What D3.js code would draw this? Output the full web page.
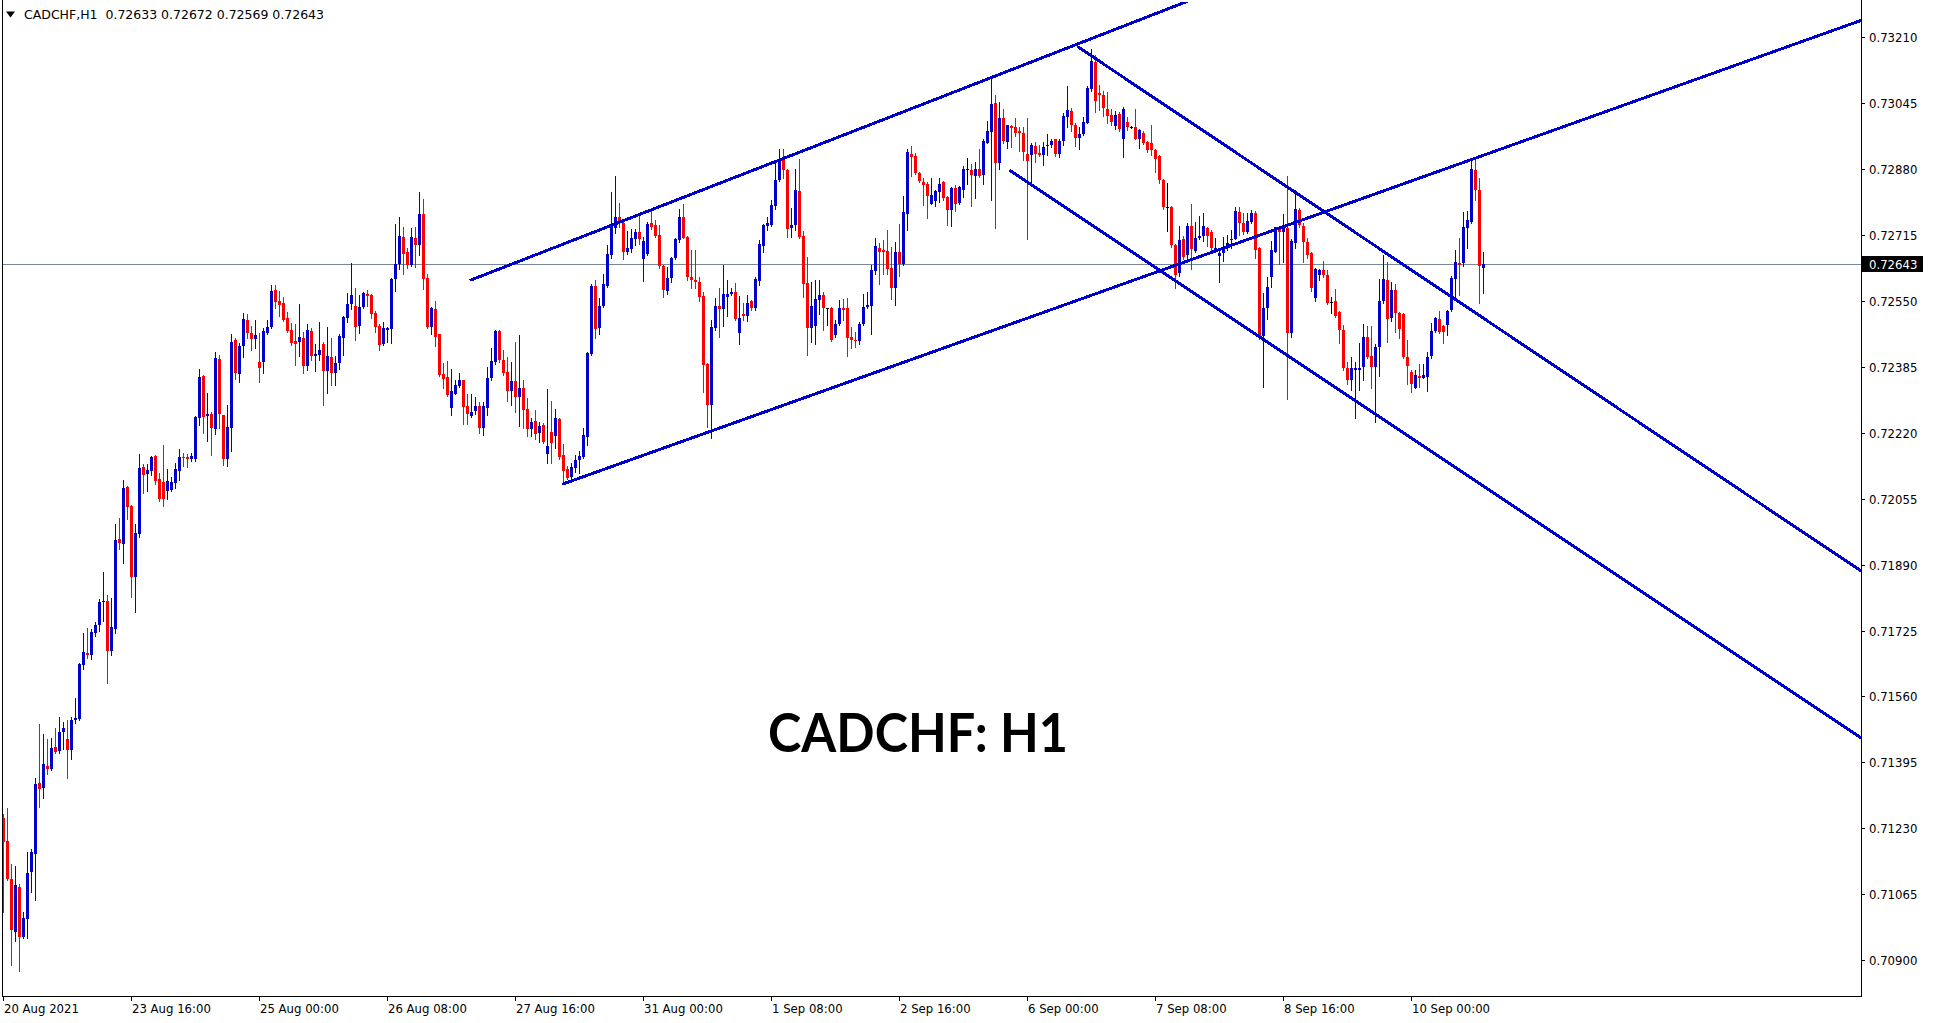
<!DOCTYPE html>
<html><head><meta charset="utf-8">
<script src="https://cdn.jsdelivr.net/npm/d3@7"></script>
<style>html,body{margin:0;padding:0;background:#fff;overflow:hidden}</style>
</head><body>
<svg id="chart" width="1933" height="1023"></svg>
<script>
// ---- DATA (CADCHF H1, first bar 20 Aug 2021 08:00) ----
const symbol = "CADCHF,H1";
const opens = [
0.71256,0.71198,0.71103,0.70971,0.71083,0.70958,0.71003,0.71122,0.71167,0.71343,
0.71332,0.71386,0.71379,0.71434,0.71424,0.71471,0.71454,0.71427,0.71500,0.71504,
0.71638,0.71668,0.71664,0.71720,0.71739,0.71797,0.71799,0.71675,0.71730,0.71953,
0.71942,0.72084,0.72037,0.71859,0.71967,0.72133,0.72116,0.72123,0.72162,0.72103,
0.72097,0.72074,0.72076,0.72095,0.72125,0.72159,0.72159,0.72155,0.72155,0.72257,
0.72362,0.72262,0.72268,0.72229,0.72405,0.72264,0.72153,0.72233,0.72451,0.72368,
0.72437,0.72502,0.72469,0.72455,0.72397,0.72398,0.72470,0.72485,0.72578,0.72550,
0.72545,0.72507,0.72477,0.72449,0.72446,0.72458,0.72387,0.72474,0.72412,0.72415,
0.72443,0.72375,0.72409,0.72370,0.72395,0.72458,0.72506,0.72542,0.72538,0.72488,
0.72535,0.72568,0.72564,0.72520,0.72488,0.72443,0.72478,0.72479,0.72604,0.72642,
0.72710,0.72673,0.72639,0.72707,0.72689,0.72767,0.72606,0.72485,0.72530,0.72466,
0.72366,0.72360,0.72282,0.72318,0.72337,0.72351,0.72287,0.72262,0.72274,0.72286,
0.72233,0.72282,0.72357,0.72396,0.72474,0.72403,0.72371,0.72324,0.72349,0.72310,
0.72332,0.72280,0.72230,0.72249,0.72219,0.72239,0.72167,0.72222,0.72212,0.72254,
0.72164,0.72129,0.72108,0.72131,0.72152,0.72160,0.72210,0.72417,0.72588,0.72482,
0.72537,0.72588,0.72664,0.72733,0.72760,0.72744,0.72673,0.72679,0.72704,0.72722,
0.72655,0.72667,0.72745,0.72739,0.72715,0.72637,0.72575,0.72608,0.72657,0.72702,
0.72759,0.72709,0.72609,0.72603,0.72597,0.72563,0.72392,0.72289,0.72481,0.72538,
0.72530,0.72560,0.72568,0.72571,0.72469,0.72517,0.72513,0.72549,0.72531,0.72600,
0.72688,0.72737,0.72739,0.72788,0.72852,0.72903,0.72877,0.72731,0.72739,0.72824,
0.72712,0.72594,0.72481,0.72487,0.72552,0.72564,0.72531,0.72531,0.72464,0.72493,
0.72531,0.72531,0.72460,0.72453,0.72450,0.72493,0.72534,0.72537,0.72625,0.72682,
0.72677,0.72674,0.72632,0.72582,0.72672,0.72643,0.72768,0.72917,0.72912,0.72870,
0.72848,0.72842,0.72793,0.72799,0.72822,0.72847,0.72810,0.72777,0.72833,0.72795,
0.72828,0.72879,0.72877,0.72863,0.72881,0.72864,0.72945,0.72973,0.73045,0.72895,
0.73007,0.72948,0.72987,0.72984,0.72974,0.72970,0.72918,0.72914,0.72937,0.72920,
0.72915,0.72937,0.72940,0.72954,0.72918,0.72950,0.73009,0.73026,0.72990,0.72958,
0.72967,0.72996,0.73080,0.73148,0.73069,0.73065,0.73031,0.73015,0.72987,0.73017,
0.72956,0.72998,0.72984,0.72984,0.72955,0.72969,0.72948,0.72944,0.72927,0.72912,
0.72852,0.72785,0.72785,0.72690,0.72619,0.72705,0.72665,0.72737,0.72675,0.72708,
0.72711,0.72733,0.72723,0.72677,0.72662,0.72669,0.72681,0.72702,0.72705,0.72773,
0.72745,0.72723,0.72748,0.72770,0.72681,0.72462,0.72531,0.72610,0.72673,0.72734,
0.72722,0.72731,0.72469,0.72695,0.72777,0.72737,0.72698,0.72669,0.72556,0.72614,
0.72627,0.72615,0.72548,0.72549,0.72523,0.72477,0.72383,0.72352,0.72377,0.72377,
0.72385,0.72459,0.72412,0.72384,0.72435,0.72549,0.72602,0.72508,0.72577,0.72520,
0.72517,0.72410,0.72373,0.72333,0.72362,0.72358,0.72360,0.72412,0.72475,0.72504,
0.72488,0.72489,0.72527,0.72604,0.72645,0.72644,0.72731,0.72748,0.72877,0.72827,
0.72633];
const highs = [
0.71267,0.71281,0.71142,0.71136,0.71091,0.71022,0.71172,0.71178,0.71357,0.71491,
0.71466,0.71454,0.71457,0.71482,0.71508,0.71496,0.71500,0.71508,0.71556,0.71645,
0.71720,0.71731,0.71729,0.71746,0.71805,0.71872,0.71815,0.71807,0.71991,0.72007,
0.72102,0.72086,0.72038,0.71991,0.72167,0.72141,0.72142,0.72161,0.72164,0.72119,
0.72189,0.72128,0.72109,0.72145,0.72179,0.72170,0.72166,0.72169,0.72262,0.72379,
0.72364,0.72320,0.72271,0.72422,0.72415,0.72265,0.72290,0.72467,0.72458,0.72445,
0.72520,0.72517,0.72488,0.72502,0.72469,0.72482,0.72502,0.72590,0.72590,0.72575,
0.72560,0.72522,0.72494,0.72492,0.72541,0.72473,0.72492,0.72483,0.72441,0.72497,
0.72446,0.72484,0.72457,0.72412,0.72466,0.72513,0.72570,0.72645,0.72582,0.72565,
0.72572,0.72577,0.72566,0.72524,0.72491,0.72497,0.72485,0.72606,0.72742,0.72759,
0.72734,0.72681,0.72732,0.72735,0.72822,0.72804,0.72617,0.72535,0.72549,0.72468,
0.72395,0.72399,0.72379,0.72353,0.72369,0.72352,0.72318,0.72316,0.72310,0.72298,
0.72296,0.72385,0.72432,0.72477,0.72476,0.72428,0.72410,0.72398,0.72447,0.72465,
0.72352,0.72306,0.72256,0.72277,0.72247,0.72245,0.72329,0.72300,0.72280,0.72257,
0.72191,0.72136,0.72143,0.72163,0.72175,0.72231,0.72422,0.72592,0.72602,0.72557,
0.72617,0.72689,0.72823,0.72862,0.72794,0.72752,0.72725,0.72729,0.72729,0.72764,
0.72710,0.72746,0.72774,0.72751,0.72739,0.72640,0.72635,0.72660,0.72707,0.72779,
0.72792,0.72712,0.72677,0.72677,0.72610,0.72571,0.72394,0.72502,0.72556,0.72582,
0.72639,0.72602,0.72583,0.72594,0.72562,0.72544,0.72564,0.72553,0.72610,0.72702,
0.72743,0.72760,0.72803,0.72902,0.72929,0.72929,0.72880,0.72781,0.72880,0.72904,
0.72725,0.72660,0.72597,0.72602,0.72602,0.72572,0.72533,0.72534,0.72502,0.72552,
0.72555,0.72556,0.72485,0.72472,0.72497,0.72568,0.72571,0.72639,0.72708,0.72695,
0.72702,0.72728,0.72685,0.72696,0.72742,0.72813,0.72929,0.72937,0.72921,0.72872,
0.72858,0.72846,0.72858,0.72828,0.72856,0.72850,0.72811,0.72835,0.72839,0.72837,
0.72887,0.72907,0.72893,0.72897,0.72930,0.72954,0.72999,0.73104,0.73066,0.73047,
0.73030,0.72991,0.72990,0.73008,0.72985,0.72985,0.73008,0.72944,0.72947,0.72940,
0.72948,0.72967,0.72956,0.72955,0.72954,0.73020,0.73087,0.73032,0.72994,0.72985,
0.73009,0.73087,0.73180,0.73165,0.73089,0.73074,0.73073,0.73029,0.73025,0.73022,
0.73035,0.73010,0.72987,0.73031,0.72980,0.72975,0.72951,0.72991,0.72930,0.72915,
0.72855,0.72844,0.72788,0.72692,0.72737,0.72712,0.72745,0.72792,0.72748,0.72763,
0.72769,0.72735,0.72728,0.72706,0.72677,0.72709,0.72715,0.72727,0.72785,0.72785,
0.72769,0.72769,0.72777,0.72775,0.72685,0.72569,0.72609,0.72700,0.72735,0.72738,
0.72767,0.72861,0.72705,0.72826,0.72781,0.72744,0.72706,0.72671,0.72631,0.72629,
0.72650,0.72627,0.72560,0.72579,0.72525,0.72489,0.72396,0.72410,0.72398,0.72444,
0.72491,0.72487,0.72487,0.72442,0.72604,0.72665,0.72646,0.72596,0.72591,0.72523,
0.72520,0.72452,0.72377,0.72377,0.72393,0.72393,0.72423,0.72494,0.72510,0.72524,
0.72490,0.72527,0.72611,0.72677,0.72706,0.72773,0.72775,0.72906,0.72904,0.72856,
0.72672];
const lows = [
0.71022,0.71100,0.70888,0.70949,0.70874,0.70955,0.70955,0.71072,0.71050,0.71284,
0.71307,0.71365,0.71376,0.71418,0.71418,0.71429,0.71357,0.71404,0.71493,0.71502,
0.71629,0.71656,0.71655,0.71712,0.71725,0.71750,0.71594,0.71664,0.71720,0.71929,
0.71893,0.72005,0.71809,0.71772,0.71958,0.72069,0.72074,0.72113,0.72091,0.72050,
0.72037,0.72053,0.72073,0.72082,0.72102,0.72136,0.72135,0.72149,0.72150,0.72239,
0.72220,0.72200,0.72163,0.72217,0.72231,0.72139,0.72136,0.72174,0.72354,0.72348,
0.72410,0.72456,0.72428,0.72432,0.72348,0.72370,0.72468,0.72483,0.72532,0.72511,
0.72500,0.72472,0.72440,0.72390,0.72412,0.72370,0.72377,0.72402,0.72374,0.72402,
0.72289,0.72320,0.72340,0.72340,0.72380,0.72414,0.72496,0.72529,0.72452,0.72470,
0.72532,0.72537,0.72508,0.72473,0.72428,0.72440,0.72448,0.72445,0.72574,0.72629,
0.72617,0.72631,0.72636,0.72634,0.72664,0.72580,0.72482,0.72467,0.72438,0.72362,
0.72333,0.72312,0.72264,0.72316,0.72335,0.72243,0.72243,0.72260,0.72267,0.72220,
0.72213,0.72265,0.72352,0.72391,0.72397,0.72364,0.72300,0.72289,0.72272,0.72237,
0.72231,0.72211,0.72211,0.72204,0.72196,0.72193,0.72144,0.72144,0.72182,0.72155,
0.72092,0.72104,0.72106,0.72122,0.72120,0.72157,0.72190,0.72414,0.72456,0.72466,
0.72535,0.72585,0.72656,0.72720,0.72735,0.72654,0.72668,0.72672,0.72690,0.72692,
0.72600,0.72664,0.72729,0.72709,0.72631,0.72560,0.72568,0.72597,0.72654,0.72698,
0.72706,0.72603,0.72583,0.72583,0.72550,0.72321,0.72235,0.72207,0.72477,0.72460,
0.72487,0.72512,0.72565,0.72502,0.72443,0.72503,0.72499,0.72527,0.72527,0.72589,
0.72673,0.72727,0.72738,0.72779,0.72849,0.72856,0.72710,0.72710,0.72727,0.72706,
0.72560,0.72414,0.72447,0.72443,0.72518,0.72477,0.72489,0.72450,0.72460,0.72490,
0.72502,0.72412,0.72433,0.72435,0.72443,0.72489,0.72531,0.72468,0.72618,0.72592,
0.72618,0.72617,0.72555,0.72539,0.72612,0.72640,0.72728,0.72862,0.72867,0.72846,
0.72790,0.72758,0.72792,0.72788,0.72798,0.72802,0.72739,0.72737,0.72775,0.72792,
0.72810,0.72842,0.72788,0.72808,0.72860,0.72841,0.72944,0.72802,0.72731,0.72881,
0.72945,0.72932,0.72934,0.72962,0.72925,0.72902,0.72704,0.72843,0.72898,0.72912,
0.72889,0.72915,0.72934,0.72913,0.72910,0.72939,0.72985,0.72974,0.72937,0.72930,
0.72964,0.72995,0.73075,0.73022,0.73027,0.73012,0.72994,0.72990,0.72980,0.72975,
0.72911,0.72978,0.72982,0.72954,0.72933,0.72942,0.72922,0.72915,0.72873,0.72845,
0.72780,0.72725,0.72685,0.72581,0.72612,0.72655,0.72655,0.72629,0.72672,0.72705,
0.72700,0.72688,0.72678,0.72672,0.72598,0.72650,0.72677,0.72681,0.72704,0.72715,
0.72717,0.72719,0.72745,0.72656,0.72455,0.72335,0.72504,0.72585,0.72671,0.72642,
0.72648,0.72304,0.72460,0.72681,0.72734,0.72648,0.72656,0.72575,0.72550,0.72602,
0.72610,0.72542,0.72520,0.72510,0.72444,0.72377,0.72343,0.72327,0.72258,0.72327,
0.72353,0.72407,0.72333,0.72248,0.72362,0.72545,0.72448,0.72500,0.72471,0.72456,
0.72408,0.72343,0.72321,0.72331,0.72335,0.72356,0.72325,0.72408,0.72473,0.72469,
0.72445,0.72464,0.72524,0.72560,0.72564,0.72637,0.72681,0.72745,0.72802,0.72544,
0.72569];
const closes = [
0.71195,0.71103,0.70975,0.71089,0.70958,0.71006,0.71118,0.71171,0.71341,0.71329,
0.71391,0.71379,0.71431,0.71422,0.71471,0.71481,0.71426,0.71501,0.71506,0.71642,
0.71672,0.71664,0.71721,0.71739,0.71797,0.71798,0.71675,0.71734,0.71951,0.71945,
0.72082,0.72035,0.71859,0.71970,0.72132,0.72115,0.72126,0.72159,0.72100,0.72054,
0.72054,0.72100,0.72097,0.72129,0.72159,0.72157,0.72153,0.72162,0.72259,0.72360,
0.72259,0.72266,0.72231,0.72407,0.72266,0.72153,0.72234,0.72447,0.72370,0.72437,
0.72504,0.72469,0.72455,0.72465,0.72382,0.72475,0.72485,0.72575,0.72548,0.72540,
0.72502,0.72475,0.72445,0.72441,0.72460,0.72387,0.72477,0.72412,0.72417,0.72427,
0.72375,0.72412,0.72370,0.72395,0.72462,0.72510,0.72542,0.72564,0.72485,0.72535,
0.72569,0.72563,0.72517,0.72484,0.72439,0.72481,0.72482,0.72604,0.72642,0.72712,
0.72667,0.72640,0.72709,0.72689,0.72768,0.72605,0.72485,0.72533,0.72459,0.72364,
0.72355,0.72314,0.72324,0.72340,0.72353,0.72285,0.72268,0.72271,0.72287,0.72233,
0.72287,0.72357,0.72399,0.72474,0.72402,0.72369,0.72324,0.72349,0.72310,0.72331,
0.72278,0.72230,0.72246,0.72217,0.72236,0.72197,0.72186,0.72193,0.72257,0.72158,
0.72125,0.72107,0.72133,0.72152,0.72162,0.72213,0.72420,0.72588,0.72480,0.72537,
0.72592,0.72667,0.72739,0.72760,0.72744,0.72673,0.72681,0.72706,0.72723,0.72704,
0.72699,0.72741,0.72734,0.72712,0.72637,0.72577,0.72606,0.72657,0.72704,0.72759,
0.72708,0.72609,0.72602,0.72596,0.72559,0.72389,0.72289,0.72484,0.72537,0.72530,
0.72566,0.72567,0.72572,0.72504,0.72508,0.72513,0.72544,0.72531,0.72604,0.72691,
0.72740,0.72745,0.72789,0.72853,0.72903,0.72877,0.72729,0.72739,0.72827,0.72710,
0.72592,0.72481,0.72537,0.72554,0.72564,0.72531,0.72531,0.72453,0.72493,0.72531,
0.72528,0.72458,0.72453,0.72449,0.72493,0.72535,0.72539,0.72628,0.72687,0.72672,
0.72672,0.72629,0.72583,0.72672,0.72643,0.72772,0.72922,0.72910,0.72870,0.72850,
0.72840,0.72813,0.72815,0.72824,0.72842,0.72808,0.72777,0.72833,0.72793,0.72834,
0.72881,0.72879,0.72865,0.72881,0.72863,0.72949,0.72974,0.73043,0.72894,0.73007,
0.72949,0.72989,0.72983,0.72970,0.72970,0.72923,0.72900,0.72939,0.72918,0.72914,
0.72934,0.72940,0.72951,0.72918,0.72951,0.73012,0.73027,0.72989,0.72958,0.72967,
0.72997,0.73082,0.73150,0.73049,0.73065,0.73032,0.73012,0.72998,0.73016,0.72979,
0.73029,0.72984,0.72984,0.72956,0.72977,0.72946,0.72927,0.72927,0.72906,0.72851,
0.72785,0.72785,0.72690,0.72614,0.72702,0.72660,0.72737,0.72680,0.72706,0.72713,
0.72737,0.72711,0.72683,0.72681,0.72669,0.72684,0.72695,0.72705,0.72775,0.72745,
0.72721,0.72750,0.72769,0.72677,0.72462,0.72531,0.72585,0.72677,0.72734,0.72723,
0.72731,0.72469,0.72700,0.72779,0.72740,0.72698,0.72665,0.72581,0.72629,0.72627,
0.72615,0.72544,0.72548,0.72512,0.72477,0.72381,0.72353,0.72381,0.72381,0.72381,
0.72459,0.72410,0.72385,0.72435,0.72549,0.72604,0.72504,0.72577,0.72520,0.72480,
0.72410,0.72387,0.72343,0.72364,0.72358,0.72364,0.72410,0.72475,0.72506,0.72471,
0.72471,0.72525,0.72608,0.72648,0.72640,0.72735,0.72752,0.72879,0.72827,0.72637,
0.72643];
const lastQuote = [0.72633, 0.72672, 0.72569, 0.72643]; // O H L C of the last bar
const bidPrice = 0.72643;
const priceTicks = [0.73210,0.73045,0.72880,0.72715,0.72550,0.72385,0.72220,0.72055,0.71890,0.71725,0.71560,0.71395,0.71230,0.71065,0.70900];
const timeTickBars = [0,32,64,96,128,160,192,224,256,288,320,352];
const timeTickLabels = ["20 Aug 2021","23 Aug 16:00","25 Aug 00:00","26 Aug 08:00","27 Aug 16:00","31 Aug 00:00","1 Sep 08:00","2 Sep 16:00","6 Sep 00:00","7 Sep 08:00","8 Sep 16:00","10 Sep 00:00"];
// trend lines: two anchors (bar index, price), drawn as rays to the right
const trendStartBars = [116.9, 140, 268.7, 251.8];
const trendStartPrices = [0.72602, 0.72092, 0.73185, 0.72875];
const trendEndBars = [259.2, 374.2, 419.2, 352.1];
const trendEndPrices = [0.73156, 0.72929, 0.72177, 0.72206];
const titleText = "CADCHF: H1";

// ---- DRAWING ----
const svg = d3.select("#chart");
const P = {left: 2, right: 1861, top: 0, bottom: 996};
const BLUE = "#0000cd", RED = "#ff0000";

const x = d3.scaleLinear().domain([0, 352]).range([3.33, 1411.33]);
const y = d3.scaleLinear().domain([0.70900, 0.73210]).range([960.3, 37]);

svg.append("rect").attr("width", 1933).attr("height", 1023).attr("fill", "#fff");
svg.append("defs").append("clipPath").attr("id", "plotClip")
  .append("rect").attr("x", P.left + 1).attr("y", P.top + 2).attr("width", P.right - P.left - 1).attr("height", P.bottom - P.top - 2);

const plot = svg.append("g").attr("clip-path", "url(#plotClip)");

// bid line
const yb = Math.round(y(bidPrice)) + 0.5;
plot.append("line").attr("x1", P.left).attr("x2", P.right).attr("y1", yb).attr("y2", yb)
  .attr("stroke", "#778899").attr("stroke-width", 1);

// candles
const bars = d3.range(opens.length).map(i => ({i, o: opens[i], h: highs[i], l: lows[i], c: closes[i]}));
const col = d => d.c > d.o ? BLUE : (d.c < d.o ? RED : "#000");
const cg = plot.append("g").attr("shape-rendering", "crispEdges");
cg.selectAll("rect.wick").data(bars).join("rect").attr("class", "wick")
  .attr("x", d => Math.round(x(d.i)))
  .attr("y", d => Math.round(y(Math.max(d.h, d.o, d.c))))
  .attr("width", 1)
  .attr("height", d => Math.max(1, Math.round(y(Math.min(d.l, d.o, d.c))) - Math.round(y(Math.max(d.h, d.o, d.c))) + 1))
  .attr("fill", col);
cg.selectAll("rect.body").data(bars).join("rect").attr("class", "body")
  .attr("x", d => Math.round(x(d.i)) - 1)
  .attr("y", d => Math.round(y(Math.max(d.o, d.c))))
  .attr("width", 3)
  .attr("height", d => Math.max(1, Math.round(y(Math.min(d.o, d.c))) - Math.round(y(Math.max(d.o, d.c)))))
  .attr("fill", col);

// trend lines (rays)
const lastBar = x.invert(P.right + 2);
trendStartBars.forEach((b1, k) => {
  const p1 = trendStartPrices[k], b2 = trendEndBars[k], p2 = trendEndPrices[k];
  const slope = (p2 - p1) / (b2 - b1);
  const pe = p1 + slope * (lastBar - b1);
  plot.append("line")
    .attr("x1", x(b1)).attr("y1", y(p1)).attr("x2", x(lastBar)).attr("y2", y(pe))
    .attr("stroke", BLUE).attr("stroke-width", 3).attr("stroke-linecap", "round")
    .attr("shape-rendering", "crispEdges");
});

// frame
const frame = svg.append("g").attr("stroke", "#000").attr("stroke-width", 1).attr("shape-rendering", "crispEdges");
frame.append("line").attr("x1", P.left + 0.5).attr("x2", P.left + 0.5).attr("y1", P.top).attr("y2", P.bottom + 0.5);
frame.append("line").attr("x1", P.right + 0.5).attr("x2", P.right + 0.5).attr("y1", P.top).attr("y2", P.bottom + 0.5);
frame.append("line").attr("x1", P.left).attr("x2", P.right + 1).attr("y1", P.bottom + 0.5).attr("y2", P.bottom + 0.5);

const FONT = "'DejaVu Sans Condensed','DejaVu Sans',sans-serif";
// price axis
const yAxis = svg.append("g").attr("font-family", FONT).attr("font-size", 13).attr("font-stretch", "condensed");
priceTicks.forEach(p => {
  const yy = Math.round(y(p)) + 0.5;
  yAxis.append("line").attr("x1", P.right + 1).attr("x2", P.right + 4).attr("y1", yy).attr("y2", yy)
    .attr("stroke", "#000").attr("shape-rendering", "crispEdges");
  yAxis.append("text").attr("x", 1869).attr("y", yy + 4.5).attr("fill", "#000").text(p.toFixed(5));
});
// bid label
yAxis.append("rect").attr("x", 1862).attr("y", yb - 8.5).attr("width", 61).attr("height", 16).attr("fill", "#000");
yAxis.append("text").attr("x", 1869).attr("y", yb + 4.5).attr("fill", "#fff").text(bidPrice.toFixed(5));

// time axis
const xAxis = svg.append("g").attr("font-family", FONT).attr("font-size", 13).attr("font-stretch", "condensed");
timeTickBars.forEach((b, k) => {
  const xx = Math.round(x(b)) + 0.5;
  xAxis.append("line").attr("x1", xx).attr("x2", xx).attr("y1", P.bottom + 1).attr("y2", P.bottom + 5)
    .attr("stroke", "#000").attr("shape-rendering", "crispEdges");
  xAxis.append("text").attr("x", xx + 0.5).attr("y", 1013).attr("fill", "#000").text(timeTickLabels[k]);
});

// header
svg.append("path").attr("d", "M6,11.5 L15,11.5 L10.5,17.5 Z").attr("fill", "#000");
svg.append("text").attr("x", 24).attr("y", 19).attr("font-family", FONT).attr("font-stretch", "condensed")
  .attr("font-size", 13).attr("textLength", 300).attr("lengthAdjust", "spacingAndGlyphs")
  .attr("xml:space", "preserve").style("white-space", "pre")
  .text(symbol + "  " + lastQuote.map(v => v.toFixed(5)).join(" "));

// title
svg.append("text").attr("x", 768).attr("y", 752).attr("font-family", "Lato, 'Open Sans', sans-serif")
  .attr("font-weight", 700).attr("font-size", 53).attr("textLength", 300).attr("lengthAdjust", "spacingAndGlyphs")
  .attr("fill", "#000").text(titleText);
</script>
</body></html>
